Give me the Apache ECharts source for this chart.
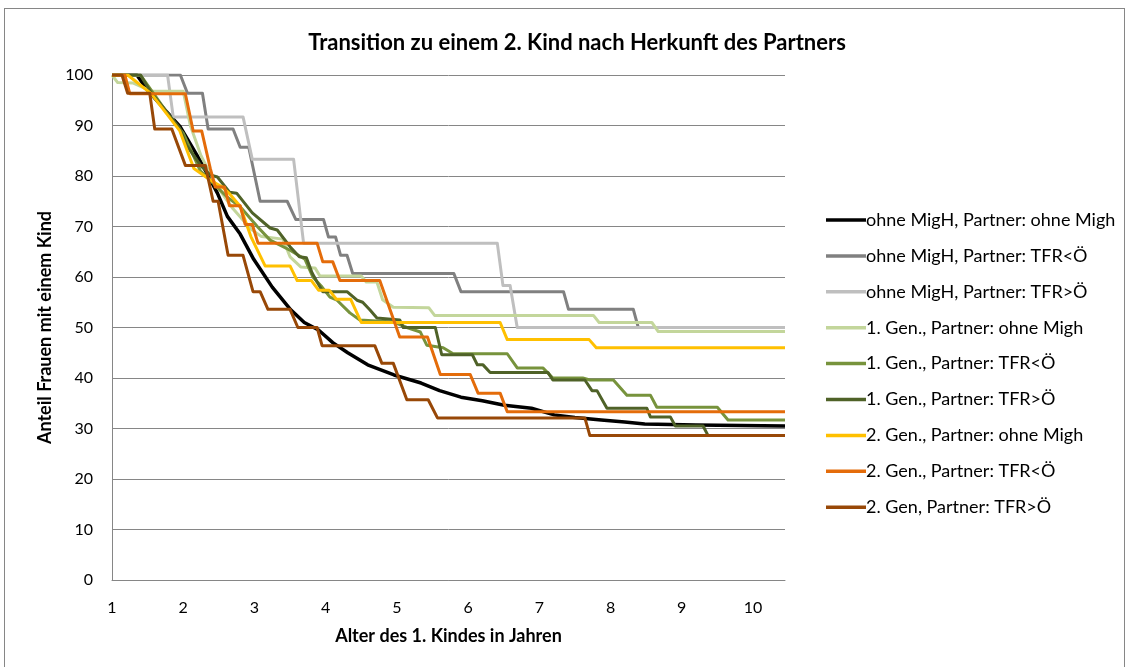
<!DOCTYPE html>
<html>
<head>
<meta charset="utf-8">
<script src="https://cdn.jsdelivr.net/npm/echarts@6/dist/echarts.min.js"></script>
<style>
  html, body { margin: 0; padding: 0; background: #fff; }
  #frame { position: absolute; left: 4px; top: 8px; width: 1121px; height: 670px; border: 1px solid #868686; box-sizing: border-box; }
  #chart { position: absolute; left: 0; top: 0; width: 1129px; height: 667px; }
</style>
</head>
<body>
<div id="frame"></div>
<div id="chart"></div>
<script>
// series names (legend order)
var seriesNames = [
    "ohne MigH, Partner: ohne Migh",
    "ohne MigH, Partner: TFR<Ö",
    "ohne MigH, Partner: TFR>Ö",
    "1. Gen., Partner: ohne Migh",
    "1. Gen., Partner: TFR<Ö",
    "1. Gen., Partner: TFR>Ö",
    "2. Gen., Partner: ohne Migh",
    "2. Gen., Partner: TFR<Ö",
    "2. Gen, Partner: TFR>Ö"
];
var seriesColors = ["#000000", "#808080", "#bfbfbf", "#c3d69b", "#77933c", "#4f6228", "#ffc000", "#e46c0a", "#984807"];

// [Alter des 1. Kindes, Anteil in %]
var ohneOhne = [[1, 100], [1.35, 100], [1.5, 97], [1.75, 93], [1.96, 89.7], [2.24, 83], [2.48, 76.6], [2.62, 72],
    [2.8, 68.5], [2.99, 63.5], [3.25, 58], [3.51, 53.5], [3.7, 51], [3.9, 49.5], [4.1, 47], [4.31, 45], [4.59, 42.6],
    [4.96, 40.6], [5.34, 39], [5.6, 37.5], [5.9, 36.2], [6.2, 35.5], [6.51, 34.6], [6.89, 34], [7.21, 32.7],
    [7.5, 32.2], [7.87, 31.7], [8.2, 31.3], [8.48, 30.9], [9.2, 30.7], [10.45, 30.5]];
var ohneTfrKl = [[1, 100], [1.96, 100], [2.06, 96.4], [2.27, 96.4], [2.35, 89.3], [2.7, 89.3], [2.8, 85.7], [2.92, 85.7],
    [3.08, 75], [3.46, 75], [3.58, 71.4], [3.97, 71.4], [4.04, 67.9], [4.14, 67.9], [4.21, 64.3], [4.3, 64.3],
    [4.38, 60.7], [5.8, 60.7], [5.9, 57.1], [7.34, 57.1], [7.41, 53.6], [8.32, 53.6], [8.39, 50], [10.45, 50]];
var ohneTfrGr = [[1, 100], [1.78, 100], [1.86, 91.7], [2.84, 91.7], [2.97, 83.3], [3.55, 83.3], [3.69, 66.7],
    [6.41, 66.7], [6.49, 58.3], [6.59, 58.3], [6.69, 50], [10.45, 50]];
var gen1Ohne = [[1, 100], [1.08, 98.5], [1.3, 98.4], [1.55, 96.8], [2.0, 96.8], [2.1, 90], [2.25, 84], [2.45, 78.5],
    [2.7, 73.5], [2.95, 69.5], [3.1, 68], [3.4, 67.5], [3.5, 64], [3.65, 62], [3.85, 61.8], [3.92, 60.2], [4.5, 60.2],
    [4.57, 59], [4.72, 59], [4.8, 55.5], [4.95, 54], [5.45, 53.9], [5.53, 52.4], [7.76, 52.4], [7.84, 51],
    [8.58, 51], [8.67, 49.2], [10.45, 49.2]];
var gen1TfrKl = [[1, 100], [1.4, 100], [1.6, 96], [1.8, 92], [2.0, 88.5], [2.24, 81], [2.42, 78.6], [2.62, 75.8],
    [2.8, 73.9], [3.04, 70], [3.22, 67.3], [3.36, 66.3], [3.5, 65.3], [3.71, 63.5], [3.82, 60], [3.95, 58],
    [4.06, 56], [4.16, 55.4], [4.34, 52.9], [4.48, 51.5], [4.95, 51.1], [5.14, 50], [5.33, 49.1], [5.42, 46.5],
    [5.65, 46], [5.79, 44.8], [6.55, 44.8], [6.69, 42], [7.05, 42], [7.19, 40], [7.61, 40], [7.71, 39.6],
    [8.04, 39.6], [8.23, 36.6], [8.56, 36.6], [8.65, 34.2], [9.5, 34.2], [9.65, 31.7], [10.45, 31.7]];
var gen1TfrGr = [[1, 100], [1.4, 100], [1.55, 96.5], [1.75, 93], [1.95, 89.5], [2.05, 86], [2.25, 82], [2.38, 80.2],
    [2.48, 79.8], [2.65, 76.8], [2.75, 76.6], [2.97, 72.7], [3.22, 69.7], [3.32, 69.3], [3.5, 66], [3.63, 64],
    [3.73, 63.8], [3.81, 60.8], [3.88, 59], [3.96, 57.1], [4.3, 57.1], [4.44, 55.4], [4.52, 55], [4.62, 53.5],
    [4.72, 51.9], [5.04, 51.5], [5.09, 50], [5.54, 50], [5.63, 44.6], [6.06, 44.6], [6.13, 42.6], [6.21, 42.6],
    [6.31, 41.1], [7.12, 41.1], [7.19, 39.6], [7.64, 39.6], [7.74, 37.5], [7.81, 37.5], [7.95, 34], [8.51, 34],
    [8.56, 32.3], [8.84, 32.3], [8.91, 30.5], [9.3, 30.5], [9.37, 28.6], [10.45, 28.6]];
var gen2Ohne = [[1, 100], [1.22, 100], [1.55, 96.3], [1.95, 89], [2.05, 85.2], [2.15, 81.5], [2.4, 79], [2.55, 77.8],
    [2.65, 76.5], [2.8, 74], [2.95, 68], [3.15, 62.2], [3.5, 62.2], [3.6, 59.3], [3.8, 59.3], [3.9, 57.4],
    [4.05, 57.4], [4.15, 55.6], [4.35, 55.6], [4.5, 51], [6.45, 51], [6.55, 47.6], [7.7, 47.6], [7.8, 46],
    [10.45, 46]];
var gen2TfrKl = [[1, 100], [1.18, 100], [1.25, 96.3], [2.03, 96.3], [2.14, 88.9], [2.26, 88.9], [2.38, 81.5],
    [2.45, 77.8], [2.58, 77.8], [2.65, 74.1], [2.8, 74.1], [2.87, 70.4], [2.97, 70.4], [3.05, 66.7], [3.88, 66.7],
    [3.96, 63], [4.1, 63], [4.2, 59.3], [4.76, 59.3], [5.04, 48.1], [5.43, 48.1], [5.61, 40.7], [6.03, 40.7],
    [6.14, 37], [6.45, 37], [6.55, 33.3], [10.45, 33.3]];
var gen2TfrGr = [[1, 100], [1.14, 100], [1.22, 96.4], [1.53, 96.4], [1.6, 89.3], [1.84, 89.3], [2.03, 82.1],
    [2.31, 82.1], [2.42, 75], [2.49, 75], [2.63, 64.3], [2.84, 64.3], [2.98, 57.1], [3.08, 57.1], [3.19, 53.6],
    [3.5, 53.6], [3.61, 50], [3.88, 50], [3.95, 46.4], [4.69, 46.4], [4.79, 42.9], [4.95, 42.9], [5.14, 35.7],
    [5.44, 35.7], [5.57, 32.1], [7.64, 32.1], [7.71, 28.6], [10.45, 28.6]];

var seriesData = [ohneOhne, ohneTfrKl, ohneTfrGr, gen1Ohne, gen1TfrKl, gen1TfrGr, gen2Ohne, gen2TfrKl, gen2TfrGr];

var myChart = echarts.init(document.getElementById("chart"));
var fontName = "Lato";

var option = {
    animation: false,
    textStyle: { fontFamily: fontName, color: "#000" },
    title: {
        text: "Transition zu einem 2. Kind nach Herkunft des Partners",
        left: 572,
        textAlign: "center",
        top: 27,
        textStyle: { fontFamily: fontName, fontSize: 22, fontWeight: "bold", color: "#000" }
    },
    grid: { left: 112, right: 344, top: 75, bottom: 87 },
    legend: {
        orient: "vertical",
        left: 821,
        top: 206,
        icon: "rect",
        itemWidth: 40,
        itemHeight: 3.5,
        itemGap: 17.9,
        textStyle: { fontFamily: fontName, fontSize: 18, lineHeight: 18, color: "#000", padding: [0, 0, 0, -5] },
        data: seriesNames
    },
    xAxis: {
        type: "value",
        min: 1,
        max: 10.45,
        interval: 1,
        name: "Alter des 1. Kindes in Jahren",
        nameLocation: "middle",
        nameGap: 47,
        nameTextStyle: { fontFamily: fontName, fontSize: 18, fontWeight: "bold", color: "#000" },
        axisLine: { lineStyle: { color: "#868686", width: 1 } },
        axisTick: { show: false },
        splitLine: { show: false },
        axisLabel: { fontFamily: fontName, fontSize: 16, color: "#000", margin: 20, showMaxLabel: false }
    },
    yAxis: {
        type: "value",
        min: 0,
        max: 100,
        interval: 10,
        name: "Anteil Frauen mit einem Kind",
        nameLocation: "middle",
        nameGap: 58,
        nameTextStyle: { fontFamily: fontName, fontSize: 18, fontWeight: "bold", color: "#000" },
        axisLine: { show: true, lineStyle: { color: "#868686", width: 1 } },
        axisTick: { show: false },
        splitLine: { lineStyle: { color: "#868686", width: 1 } },
        axisLabel: { fontFamily: fontName, fontSize: 16, color: "#000", margin: 19 }
    },
    series: seriesNames.map(function (name, i) {
        return {
            name: name,
            type: "line",
            data: seriesData[i],
            symbol: "none",
            color: seriesColors[i],
            lineStyle: { width: i === 0 ? 3.5 : 3, color: seriesColors[i], join: "round" }
        };
    })
};

myChart.setOption(option);
</script>
</body>
</html>
